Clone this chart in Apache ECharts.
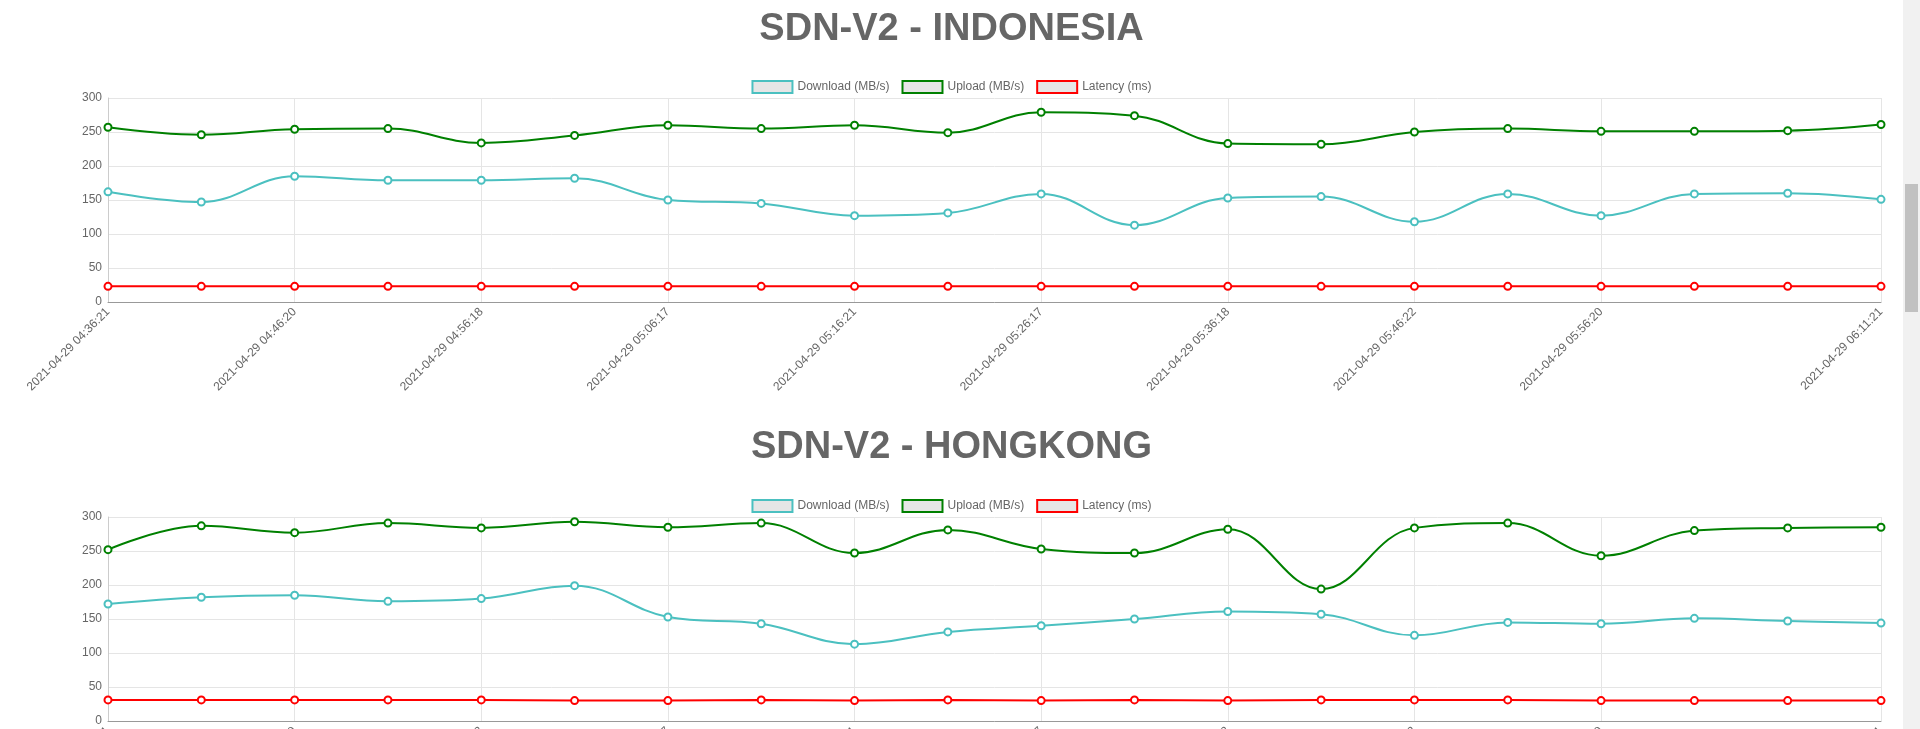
<!DOCTYPE html>
<html>
<head>
<meta charset="utf-8">
<script src="https://cdn.jsdelivr.net/npm/echarts@6/dist/echarts.min.js"></script>
<style>
  html, body { margin: 0; padding: 0; overflow: hidden; background: #fff; }
  #chart { width: 1903px; height: 900px; }
  #track { position: absolute; left: 1903px; top: 0; width: 17px; height: 729px; background: #f1f1f1; }
  #thumb { position: absolute; left: 1905px; top: 184px; width: 13px; height: 128px; background: #c1c1c1; }
</style>
</head>
<body>
<div id="chart"></div>
<div id="track"></div>
<div id="thumb"></div>
<script>
var times = ['2021-04-29 04:36:21', '2021-04-29 04:41:20', '2021-04-29 04:46:20', '2021-04-29 04:51:19',
  '2021-04-29 04:56:18', '2021-04-29 05:01:18', '2021-04-29 05:06:17', '2021-04-29 05:11:19',
  '2021-04-29 05:16:21', '2021-04-29 05:21:20', '2021-04-29 05:26:17', '2021-04-29 05:31:18',
  '2021-04-29 05:36:18', '2021-04-29 05:41:20', '2021-04-29 05:46:22', '2021-04-29 05:51:21',
  '2021-04-29 05:56:20', '2021-04-29 06:01:20', '2021-04-29 06:06:21', '2021-04-29 06:11:21'];
var shownLabels = [0, 2, 4, 6, 8, 10, 12, 14, 16, 19];

var idDownload = [162, 147, 185, 179, 179, 182, 150, 145, 127, 131, 159, 113, 153, 155, 118, 159, 127, 159, 160, 151];
var idUpload = [257, 246, 254, 255, 234, 245, 260, 255, 260, 249, 279, 274, 233, 232, 250, 255, 251, 251, 252, 261];
var idLatency = [23, 23, 23, 23, 23, 23, 23, 23, 23, 23, 23, 23, 23, 23, 23, 23, 23, 23, 23, 23];

var hkDownload = [172, 182, 185, 176, 180, 199, 153, 143, 113, 131, 140, 150, 161, 157, 126, 145, 143, 151, 147, 144];
var hkUpload = [252, 287, 277, 291, 284, 293, 285, 291, 247, 281, 253, 247, 282, 194, 284, 291, 243, 280, 284, 285];
var hkLatency = [31, 31, 31, 31, 31, 30, 30, 31, 30, 31, 30, 31, 30, 31, 31, 31, 30, 30, 30, 30];

var names = ['Download (MB/s)', 'Upload (MB/s)', 'Latency (ms)'];
var colors = ['#4bc0c0', '#008000', '#ff0000'];

var myChart = echarts.init(document.getElementById('chart'));

function legendFor(top) {
  return {
    top: top, left: 'center', icon: 'rect', itemWidth: 40, itemHeight: 12, itemGap: 12,
    textStyle: { color: '#666', fontSize: 12, fontFamily: 'Liberation Sans' },
    data: names.map(function (n, i) {
      return { name: n, itemStyle: { color: '#e6e6e6', borderColor: colors[i], borderWidth: 2 } };
    })
  };
}
function xAxisFor(gi) {
  return {
    type: 'category', gridIndex: gi, data: times, boundaryGap: false,
    axisLine: { lineStyle: { color: '#999' } },
    axisTick: { show: false },
    splitLine: { show: true, interval: function (i) { return shownLabels.indexOf(i) >= 0; }, lineStyle: { color: '#e5e5e5' } },
    axisLabel: {
      rotate: 45, color: '#666', fontSize: 12, fontFamily: 'Liberation Sans', margin: 8,
      interval: function (i) { return shownLabels.indexOf(i) >= 0; }
    }
  };
}
function yAxisFor(gi) {
  return {
    type: 'value', gridIndex: gi, min: 0, max: 300, interval: 50,
    axisLine: { show: true, lineStyle: { color: '#ccc' } },
    axisLabel: { color: '#666', fontSize: 12, fontFamily: 'Liberation Sans', margin: 6 },
    splitLine: { lineStyle: { color: '#e5e5e5' } }
  };
}
function lineFor(gi, name, data, i) {
  return {
    type: 'line', name: name, xAxisIndex: gi, yAxisIndex: gi, data: data, smooth: 0.4,
    symbol: 'emptyCircle', symbolSize: 7, color: colors[i],
    lineStyle: { width: 2, color: colors[i] },
    itemStyle: { color: colors[i], borderColor: colors[i], borderWidth: 2 }
  };
}

var option = {
  animation: false,
  title: [
    { text: 'SDN-V2 - INDONESIA', left: 'center', top: 6, textStyle: { fontSize: 38, fontWeight: 'bold', color: '#666', fontFamily: 'Liberation Sans' } },
    { text: 'SDN-V2 - HONGKONG', left: 'center', top: 424, textStyle: { fontSize: 38, fontWeight: 'bold', color: '#666', fontFamily: 'Liberation Sans' } }
  ],
  legend: [legendFor(75), legendFor(494)],
  grid: [
    { left: 108, right: 22, top: 98, height: 204 },
    { left: 108, right: 22, top: 517, height: 204 }
  ],
  xAxis: [xAxisFor(0), xAxisFor(1)],
  yAxis: [yAxisFor(0), yAxisFor(1)],
  series: [
    lineFor(0, names[0], idDownload, 0),
    lineFor(0, names[1], idUpload, 1),
    lineFor(0, names[2], idLatency, 2),
    lineFor(1, names[0], hkDownload, 0),
    lineFor(1, names[1], hkUpload, 1),
    lineFor(1, names[2], hkLatency, 2)
  ]
};
myChart.setOption(option);
</script>
</body>
</html>
